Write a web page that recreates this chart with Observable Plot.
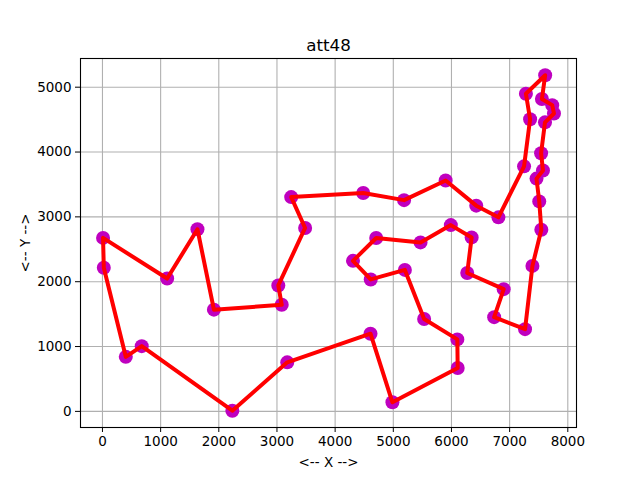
<!DOCTYPE html>
<html>
<head>
<meta charset="utf-8">
<script src="https://cdn.jsdelivr.net/npm/d3@7"></script>
<script src="https://cdn.jsdelivr.net/npm/@observablehq/plot@0.6"></script>
<style>
  body { margin: 0; background: white; }
</style>
</head>
<body>
<div id="chart"></div>
<script>
// att48 city coordinates (city 1..48)
const cityX = [6734, 2233, 5530, 401, 3082, 7608, 7573, 7265, 6898, 1112, 5468, 5989, 4706, 4612, 6347, 6107,
  7611, 7462, 7732, 5900, 4483, 6101, 5199, 1633, 4307, 675, 7555, 7541, 3177, 7352, 7545, 3245,
  6426, 4608, 23, 7248, 7762, 7392, 3484, 6271, 4985, 1916, 7280, 7509, 10, 6807, 5185, 3023];
const cityY = [1453, 10, 1424, 841, 1644, 4458, 3716, 1268, 1885, 2049, 2606, 2873, 2674, 2035, 2683, 669,
  5184, 3590, 4723, 3561, 3369, 1110, 2182, 2809, 2322, 1006, 4819, 3981, 756, 4506, 2801, 3305,
  3173, 1198, 2216, 3779, 4595, 2244, 2829, 2135, 140, 1569, 4899, 3239, 2676, 2993, 3258, 1942];
// visiting order (closed tour)
const tour = [1, 8, 38, 31, 44, 18, 7, 28, 6, 37, 19, 27, 17, 43, 30, 36, 46, 33, 20, 47, 21, 32, 39, 48,
  5, 42, 24, 10, 45, 35, 4, 26, 2, 29, 34, 41, 16, 22, 3, 23, 14, 25, 13, 11, 12, 15, 40, 9, 1];
const xTicks = [0, 1000, 2000, 3000, 4000, 5000, 6000, 7000, 8000];
const yTicks = [0, 1000, 2000, 3000, 4000, 5000];

const cities = cityX.map((x, i) => ({ x, y: cityY[i] }));
const path = tour.map((c) => cities[c - 1]);

const plot = Plot.plot({
  width: 640,
  height: 480,
  marginLeft: 80,
  marginRight: 64,
  marginTop: 58,
  marginBottom: 53,
  style: { fontFamily: "DejaVu Sans", fontSize: "13.5px", color: "black", background: "white" },
  x: { domain: [-377.6, 8149.6], ticks: xTicks, tickFormat: "d" },
  y: { domain: [-248.7, 5442.7], ticks: yTicks, tickFormat: "d" },
  marks: [
    Plot.gridX(xTicks, { stroke: "#b0b0b0", strokeOpacity: 1, strokeWidth: 1.1 }),
    Plot.gridY(yTicks, { stroke: "#b0b0b0", strokeOpacity: 1, strokeWidth: 1.1 }),
    Plot.axisX(xTicks, { tickSize: 5, tickPadding: 4, tickFormat: "d", label: "<-- X -->", labelAnchor: "center", labelArrow: "none", labelOffset: 39 }),
    Plot.axisY(yTicks, { tickSize: 5, tickPadding: 4, tickFormat: "d", label: "<-- Y -->", labelAnchor: "center", labelArrow: "none", labelOffset: 60 }),
    Plot.dot(cities, { x: "x", y: "y", r: 7, fill: "#bf00bf", stroke: "none" }),
    Plot.line(path, { x: "x", y: "y", stroke: "red", strokeWidth: 4, strokeLinejoin: "round", curve: "linear" }),
    Plot.frame({ stroke: "black", strokeWidth: 1.1 }),
    Plot.text(["att48"], { text: (d) => d, frameAnchor: "top", dy: -19, fontSize: 16.7, fill: "black" })
  ]
});
document.getElementById("chart").appendChild(plot);
</script>
</body>
</html>
